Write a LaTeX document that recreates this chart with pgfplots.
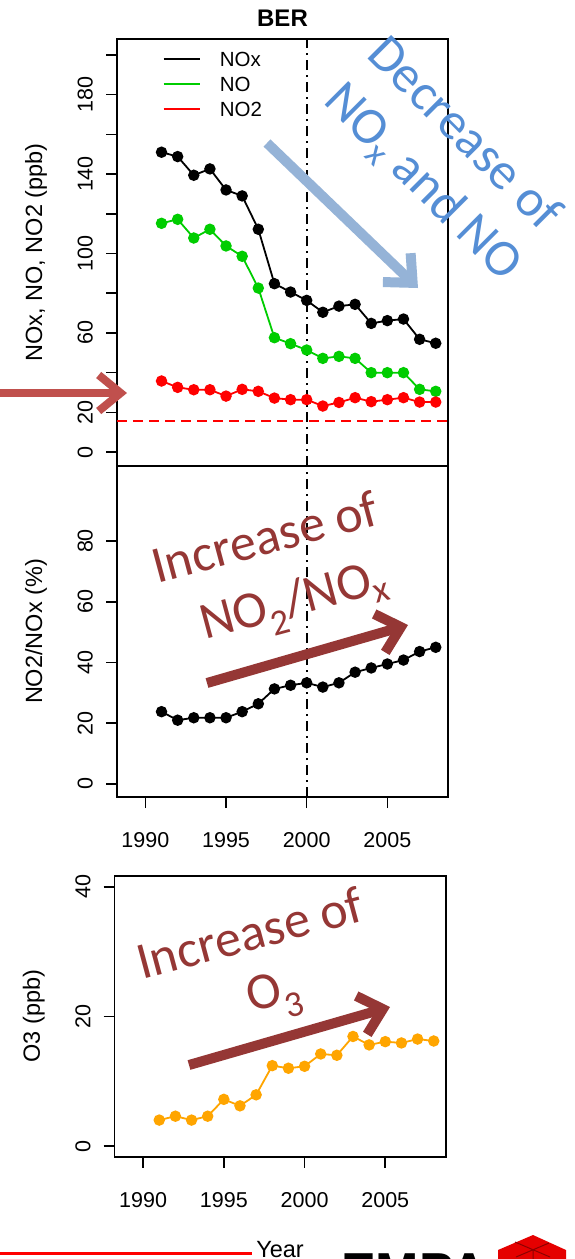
\documentclass[border=0pt]{standalone}
\usepackage{fontspec}
\setmainfont{Liberation Sans}
\newfontfamily\calfont{Carlito}
\usepackage{pgfplots}
\usepackage{pgfplotstable}
\pgfplotsset{compat=1.18}
\usetikzlibrary{arrows.meta}

\definecolor{ngreen}{HTML}{00CD00}
\definecolor{othree}{HTML}{FFA500}
\definecolor{txtblue}{HTML}{558ED5}
\definecolor{arrblue}{HTML}{95B3D7}
\definecolor{arrred}{HTML}{C0504D}
\definecolor{darkred}{HTML}{953735}

\pgfplotstableread{
year nox no no2 ratio o3
1991 151.0 115.2 35.8 23.8 4.0
1992 148.8 117.2 32.6 21.0 4.6
1993 139.4 107.8 31.4 21.8 4.0
1994 142.6 112.2 31.4 21.8 4.6
1995 132.0 103.8 28.2 21.8 7.2
1996 129.0 98.6 31.6 23.8 6.2
1997 112.2 82.6 30.6 26.4 7.9
1998 84.8 57.6 27.2 31.3 12.4
1999 80.6 54.6 26.4 32.5 12.0
2000 76.4 51.4 26.4 33.3 12.3
2001 70.4 47.2 23.2 31.9 14.2
2002 73.5 48.2 25.0 33.3 14.0
2003 74.4 47.2 27.4 36.8 16.9
2004 64.8 40.0 25.4 38.2 15.6
2005 66.2 40.0 26.4 39.5 16.1
2006 67.0 40.0 27.4 40.8 15.9
2007 56.8 31.6 25.2 43.6 16.5
2008 54.8 30.6 25.2 45.0 16.2
}\datatable

\newcommand{\rfont}{\fontsize{21.5}{25}\selectfont}
\newcommand{\lfont}{\fontsize{23.5}{27}\selectfont}

\pgfplotsset{
 rstyle/.style={
  scale only axis, anchor=south west,
  xmin=1988.24, xmax=2008.76,
  tick align=outside, major tick length=11pt,
  tick pos=left,
  axis line style={line width=1.6pt},
  tick style={line width=1.6pt, black},
  ticklabel style={font=\rfont},
  scaled ticks=false,
  /pgf/number format/assume math mode=true,
  /pgf/number format/1000 sep={},
  yticklabel style={rotate=90, anchor=south, inner sep=0pt},
  yticklabel shift=13pt,
  xticklabel style={anchor=north, inner sep=0pt},
  every axis y label/.style={at={(axis description cs:0,0.5)}, xshift=-81pt, rotate=90, anchor=center, font=\lfont},
 },
 dline/.style={line width=1.8pt, mark=*, mark size=4.8pt, mark options={solid}},
}

\begin{document}
\begin{tikzpicture}
\useasboundingbox (0pt,0pt) rectangle (574pt,-1259pt);
\fill[white] (0pt,0pt) rectangle (574pt,-1259pt);

% top panel
\begin{axis}[rstyle,
  at={(117pt,-466pt)}, width=331pt, height=427pt,
  ymin=-7, ymax=208,
  xtick=\empty,
  ytick={0,20,...,200},
  yticklabels={0,20,,60,,100,,140,,180,},
  ylabel={NOx, NO, NO2 (ppb)},
  legend style={at={(axis description cs:0.138,0.9707)}, anchor=north west, draw=none, fill=none, inner sep=0pt, outer sep=0pt, row sep=9.8pt,
    nodes={inner sep=0pt, text height=15pt, text depth=0pt, font=\fontsize{20.5}{24}\selectfont},
    /tikz/every odd column/.style={column sep=18.7pt}},
  legend image code/.code={\draw[#1] (0pt,0pt) -- (36.6pt,0pt);},
  legend cell align=left,
]
\addlegendimage{black, line width=1.8pt}
\addlegendentry{NOx}
\addlegendimage{ngreen, line width=1.8pt}
\addlegendentry{NO}
\addlegendimage{red, line width=1.8pt}
\addlegendentry{NO2}
\addplot[red, line width=1.6pt, dash pattern=on 10pt off 6pt, forget plot] coordinates {(1988.24,15.8) (2008.76,15.8)};
\addplot[black, line width=1.7pt, dash pattern=on 10pt off 5pt on 2pt off 5pt, forget plot] coordinates {(2000,-7) (2000,208)};
\addplot[dline, black, forget plot] table[x=year, y=nox] {\datatable};
\addplot[dline, ngreen, forget plot] table[x=year, y=no] {\datatable};
\addplot[dline, red, forget plot] table[x=year, y=no2] {\datatable};
\end{axis}

% middle panel
\begin{axis}[rstyle,
  at={(117pt,-797pt)}, width=331pt, height=331pt,
  ymin=-4.3, ymax=104.7,
  xtick={1990,1995,2000,2005},
  ytick={0,20,40,60,80},
  xticklabel shift=24.5pt,
  ylabel={NO2/NOx (\%)},
]
\addplot[black, line width=1.7pt, dash pattern=on 10pt off 5pt on 2pt off 5pt] coordinates {(2000,-4.3) (2000,104.7)};
\addplot[dline, black] table[x=year, y=ratio] {\datatable};
\end{axis}

% bottom panel
\begin{axis}[rstyle,
  at={(114.7pt,-1156.7pt)}, width=331.3pt, height=281pt,
  ymin=-1.65, ymax=41.7,
  xtick={1990,1995,2000,2005},
  ytick={0,20,40},
  xticklabel shift=24.5pt,
  ylabel={O3 (ppb)},
]
\addplot[dline, othree] table[x=year, y=o3] {\datatable};
\end{axis}

% title and bottom texts
\node[font=\bfseries\fontsize{24}{28}\selectfont] at (282.5pt,-18pt) {BER};
\node[anchor=base, font=\lfont, inner sep=0pt] at (280pt,-1257pt) {Year};
\draw[red, line width=2.5pt] (0pt,-1253.3pt) -- (252pt,-1253.3pt);
\node[anchor=base west, font=\bfseries\fontsize{52}{52}\selectfont, inner sep=0pt] at (341pt,-1289pt) {EMPA};
\fill[red!90!black] (498pt,-1250pt) -- (533pt,-1235pt) -- (566pt,-1250pt) -- (566pt,-1262pt) -- (498pt,-1262pt) -- cycle;
\draw[red!55!black, line width=1pt] (515pt,-1242pt) -- (550pt,-1257pt) (533pt,-1262pt) -- (533pt,-1250pt) (516pt,-1257pt) -- (549pt,-1243pt);

% annotations
\draw[arrblue, line width=10pt, -{Straight Barb[length=22pt, width=40pt]}] (267pt,-143pt) -- (418pt,-288pt);
\node[rotate=-45, text=txtblue, font=\calfont\fontsize{52}{60}\selectfont] at (466pt,-132pt) {Decrease of};
\node[rotate=-45, text=txtblue, font=\calfont\fontsize{52}{60}\selectfont] at (422pt,-183pt) {NO\textsubscript{x} and NO};

\draw[arrred, line width=8pt, -{Straight Barb[length=22pt, width=36pt]}] (-5pt,-393pt) -- (127pt,-393pt);

\draw[darkred, line width=10pt, -{Straight Barb[length=22pt, width=40pt]}] (207pt,-683pt) -- (408pt,-625pt);
\node[rotate=15, anchor=base west, inner sep=0pt, text=darkred, font=\calfont\fontsize{52}{60}\selectfont] at (157pt,-584pt) {Increase of};
\node[rotate=15, anchor=base west, inner sep=0pt, text=darkred, font=\calfont\fontsize{52}{60}\selectfont] at (205pt,-640pt) {NO\textsubscript{2}/NO\textsubscript{x}};

\draw[darkred, line width=10pt, -{Straight Barb[length=22pt, width=40pt]}] (189pt,-1065pt) -- (390pt,-1007pt);
\node[rotate=15, anchor=base west, inner sep=0pt, text=darkred, font=\calfont\fontsize{52}{60}\selectfont] at (142pt,-980pt) {Increase of};
\node[rotate=15, anchor=base west, inner sep=0pt, text=darkred, font=\calfont\fontsize{52}{60}\selectfont] at (251pt,-1013pt) {O\textsubscript{3}};
\end{tikzpicture}
\end{document}
